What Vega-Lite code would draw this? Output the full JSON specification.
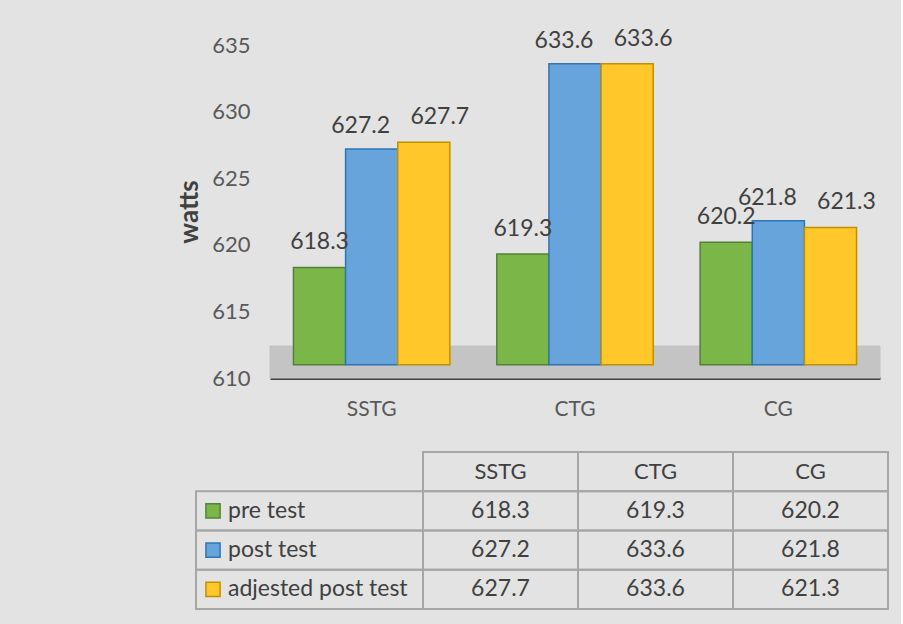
{
  "$schema": "https://vega.github.io/schema/vega-lite/v6.json",
  "background": "#e3e3e3",
  "padding": {"left": 176, "top": 27, "right": 12, "bottom": 16},
  "config": {"view": {"stroke": null}, "font": "Lato", "axis": {"labelFont": "Lato", "titleFont": "Lato"}},
  "datasets": {
    "scores": [
      {"group": "SSTG", "series": "pre test", "value": 618.3},
      {"group": "CTG", "series": "pre test", "value": 619.3},
      {"group": "CG", "series": "pre test", "value": 620.2},
      {"group": "SSTG", "series": "post test", "value": 627.2},
      {"group": "CTG", "series": "post test", "value": 633.6},
      {"group": "CG", "series": "post test", "value": 621.8},
      {"group": "SSTG", "series": "adjested post test", "value": 627.7},
      {"group": "CTG", "series": "adjested post test", "value": 633.6},
      {"group": "CG", "series": "adjested post test", "value": 621.3}
    ],
    "groups": [{"group": "SSTG"}, {"group": "CTG"}, {"group": "CG"}],
    "series": [{"series": "pre test"}, {"series": "post test"}, {"series": "adjested post test"}]
  },
  "bounds": "flush",
  "spacing": 74,
  "vconcat": [
    {
      "width": 692,
      "height": 333,
      "layer": [
        {
          "data": {"name": "groups"},
          "mark": {"type": "bar", "color": "#c4c4c4", "stroke": "#c4c4c4", "strokeWidth": 1},
          "encoding": {
            "x": {
              "field": "group", "type": "nominal", "sort": ["SSTG", "CTG", "CG"],
              "scale": {"domain": ["SSTG", "CTG", "CG"], "range": [74, 684], "paddingInner": 0, "paddingOuter": 0},
              "axis": {"title": null, "labelAngle": 0, "ticks": false, "domainColor": "#404040", "domainWidth": 3, "labelFontSize": 21, "labelColor": "#595959", "labelPadding": 20}
            },
            "y": {
              "datum": 610, "type": "quantitative",
              "scale": {"domain": [610, 635], "nice": false, "zero": false},
              "axis": {"title": "watts", "values": [610, 615, 620, 625, 630, 635], "offset": -74, "domain": false, "ticks": false, "grid": false, "labelFontSize": 22, "labelColor": "#595959", "labelPadding": 20, "titleFontSize": 26, "titleFontWeight": "bold", "titleColor": "#404040", "titlePadding": 9}
            },
            "y2": {"datum": 612.4}
          }
        },
        {
          "data": {"name": "scores"},
          "mark": {"type": "bar", "strokeWidth": 1.5},
          "encoding": {
            "x": {"field": "group", "type": "nominal", "sort": ["SSTG", "CTG", "CG"]},
            "xOffset": {"field": "series", "type": "nominal", "scale": {"domain": ["pre test", "post test", "adjested post test"], "paddingInner": 0, "paddingOuter": 0.45}},
            "y": {"field": "value", "type": "quantitative"},
            "y2": {"datum": 611},
            "fill": {"field": "series", "type": "nominal", "scale": {"domain": ["pre test", "post test", "adjested post test"], "range": ["#7ab648", "#67a4dc", "#ffc72a"]}, "legend": null},
            "stroke": {"field": "series", "type": "nominal", "scale": {"domain": ["pre test", "post test", "adjested post test"], "range": ["#548235", "#2e75b6", "#bf9000"]}, "legend": null}
          }
        },
        {
          "data": {"name": "scores"},
          "transform": [{"filter": "datum.series === 'pre test'"}],
          "mark": {"type": "text", "baseline": "alphabetic", "dy": -18, "fontSize": 23, "color": "#404040"},
          "encoding": {
            "x": {"field": "group", "type": "nominal", "sort": ["SSTG", "CTG", "CG"]},
            "xOffset": {"field": "series", "type": "nominal"},
            "y": {"field": "value", "type": "quantitative"},
            "text": {"field": "value", "type": "quantitative", "format": ".1f"}
          }
        },
        {
          "data": {"name": "scores"},
          "transform": [{"filter": "datum.series === 'post test'"}],
          "mark": {"type": "text", "baseline": "alphabetic", "dy": -16, "dx": -11, "fontSize": 23, "color": "#404040"},
          "encoding": {
            "x": {"field": "group", "type": "nominal", "sort": ["SSTG", "CTG", "CG"]},
            "xOffset": {"field": "series", "type": "nominal"},
            "y": {"field": "value", "type": "quantitative"},
            "text": {"field": "value", "type": "quantitative", "format": ".1f"}
          }
        },
        {
          "data": {"name": "scores"},
          "transform": [{"filter": "datum.series === 'adjested post test'"}],
          "mark": {"type": "text", "baseline": "alphabetic", "dy": -18, "dx": 16, "fontSize": 23, "color": "#404040"},
          "encoding": {
            "x": {"field": "group", "type": "nominal", "sort": ["SSTG", "CTG", "CG"]},
            "xOffset": {"field": "series", "type": "nominal"},
            "y": {"field": "value", "type": "quantitative"},
            "text": {"field": "value", "type": "quantitative", "format": ".1f"}
          }
        }
      ]
    },
    {
      "bounds": "flush",
      "spacing": 0,
      "hconcat": [
        {
          "width": 227,
          "height": 157,
          "data": {"name": "series"},
          "layer": [
            {
              "mark": {"type": "rect", "fill": "transparent", "stroke": "#a6a6a6", "strokeWidth": 2},
              "encoding": {
                "y": {"field": "series", "type": "nominal", "scale": {"domain": ["header", "pre test", "post test", "adjested post test"], "paddingInner": 0, "paddingOuter": 0}, "axis": null}
              }
            },
            {
              "mark": {"type": "point", "shape": "square", "filled": true, "size": 200, "strokeWidth": 1.5, "opacity": 1},
              "encoding": {
                "x": {"datum": "swatch", "type": "nominal", "scale": {"type": "point", "domain": ["swatch", "label"], "range": [17, 32], "padding": 0}, "axis": null},
                "y": {"field": "series", "type": "nominal"},
                "fill": {"field": "series", "type": "nominal", "scale": {"domain": ["pre test", "post test", "adjested post test"], "range": ["#7ab648", "#67a4dc", "#ffc72a"]}, "legend": null},
                "stroke": {"field": "series", "type": "nominal", "scale": {"domain": ["pre test", "post test", "adjested post test"], "range": ["#548235", "#2e75b6", "#bf9000"]}, "legend": null}
              }
            },
            {
              "mark": {"type": "text", "align": "left", "baseline": "middle", "fontSize": 23, "color": "#404040"},
              "encoding": {
                "x": {"datum": "label", "type": "nominal"},
                "y": {"field": "series", "type": "nominal"},
                "text": {"field": "series", "type": "nominal"}
              }
            }
          ]
        },
        {
          "width": 465,
          "height": 157,
          "layer": [
            {
              "data": {"name": "groups"},
              "mark": {"type": "rect", "fill": "transparent", "stroke": "#a6a6a6", "strokeWidth": 2},
              "encoding": {
                "x": {"field": "group", "type": "nominal", "scale": {"domain": ["SSTG", "CTG", "CG"], "paddingInner": 0, "paddingOuter": 0}, "axis": null},
                "y": {"datum": "header", "type": "nominal", "scale": {"domain": ["header", "pre test", "post test", "adjested post test"], "paddingInner": 0, "paddingOuter": 0}, "axis": null}
              }
            },
            {
              "data": {"name": "scores"},
              "mark": {"type": "rect", "fill": "transparent", "stroke": "#a6a6a6", "strokeWidth": 2},
              "encoding": {
                "x": {"field": "group", "type": "nominal"},
                "y": {"field": "series", "type": "nominal"}
              }
            },
            {
              "data": {"name": "groups"},
              "mark": {"type": "text", "baseline": "middle", "fontSize": 22, "color": "#404040"},
              "encoding": {
                "x": {"field": "group", "type": "nominal"},
                "y": {"datum": "header", "type": "nominal"},
                "text": {"field": "group", "type": "nominal"}
              }
            },
            {
              "data": {"name": "scores"},
              "mark": {"type": "text", "baseline": "middle", "fontSize": 23, "color": "#404040"},
              "encoding": {
                "x": {"field": "group", "type": "nominal"},
                "y": {"field": "series", "type": "nominal"},
                "text": {"field": "value", "type": "quantitative", "format": ".1f"}
              }
            }
          ]
        }
      ]
    }
  ]
}
